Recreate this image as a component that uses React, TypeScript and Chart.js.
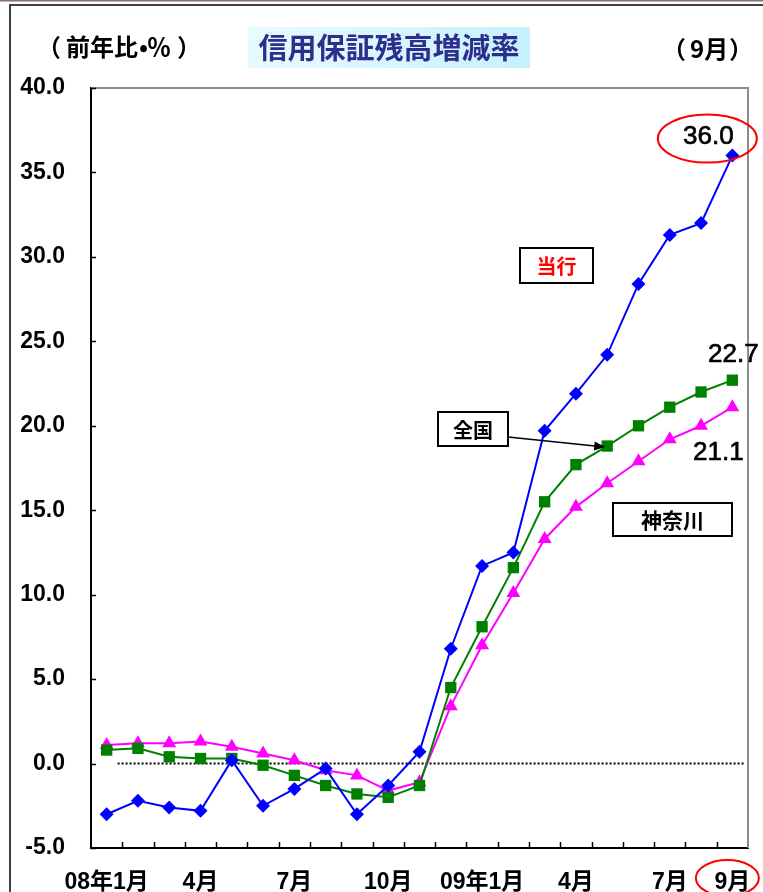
import { useEffect, useRef } from 'react';
import { Chart, registerables } from 'chart.js';

Chart.register(...registerables);

const categories = ['08年1月', '2月', '3月', '4月', '5月', '6月', '7月', '8月', '9月', '10月', '11月', '12月', '09年1月', '2月', '3月', '4月', '5月', '6月', '7月', '8月', '9月'];
const xTickLabels = ['08年1月', '', '', '4月', '', '', '7月', '', '', '10月', '', '', '09年1月', '', '', '4月', '', '', '7月', '', '9月'];
const touko = [-3.0, -2.2, -2.6, -2.8, 0.2, -2.5, -1.5, -0.3, -3.0, -1.3, 0.7, 6.8, 11.7, 12.5, 19.7, 21.9, 24.2, 28.4, 31.3, 32.0, 36.0];
const zenkoku = [0.8, 0.9, 0.4, 0.3, 0.3, -0.1, -0.7, -1.3, -1.8, -2.0, -1.3, 4.5, 8.1, 11.6, 15.5, 17.7, 18.8, 20.0, 21.1, 22.0, 22.7];
const kanagawa = [1.1, 1.2, 1.2, 1.3, 1.0, 0.6, 0.2, -0.4, -0.7, -1.6, -1.1, 3.4, 7.0, 10.1, 13.3, 15.2, 16.6, 17.9, 19.2, 20.0, 21.1];
const seriesNames = ['当行', '全国', '神奈川'];
const yMin = -5;
const yMax = 40;
const yStep = 5;
const titleText = '信用保証残高増減率';

const CJK = '"Noto Sans CJK JP", sans-serif';
const NUMFONT = '"Liberation Sans", Arial, "Noto Sans CJK JP", sans-serif';

const decorPlugin = {
  id: 'decor',
  beforeDatasetsDraw(chart: any) {
    const { ctx, chartArea, scales } = chart;
    const x = scales.x;
    const y = scales.y;
    ctx.save();
    ctx.strokeStyle = '#8c8c8c';
    ctx.lineWidth = 2;
    ctx.beginPath();
    ctx.moveTo(chartArea.left, chartArea.top);
    ctx.lineTo(chartArea.right, chartArea.top);
    ctx.lineTo(chartArea.right, chartArea.bottom);
    ctx.stroke();
    ctx.strokeStyle = '#000';
    ctx.lineWidth = 1.5;
    ctx.beginPath();
    for (let v = yMin; v <= yMax; v += yStep) {
      const py = Math.round(y.getPixelForValue(v)) + 0.5;
      ctx.moveTo(chartArea.left, py);
      ctx.lineTo(chartArea.left + 5, py);
    }
    for (let i = 1; i < categories.length; i++) {
      const px = Math.round(x.getPixelForValue(i - 0.5)) + 0.5;
      ctx.moveTo(px, chartArea.bottom);
      ctx.lineTo(px, chartArea.bottom - 6);
    }
    ctx.stroke();
    const zy = Math.round(y.getPixelForValue(0)) - 0.5;
    ctx.fillStyle = '#000';
    const startX = x.getPixelForValue(0.35);
    for (let px = startX; px < chartArea.right - 3; px += 4) {
      ctx.fillRect(px, zy - 1, 2, 2);
    }
    ctx.restore();
  },
  afterDraw(chart: any) {
    const { ctx } = chart;
    const W = chart.width;
    ctx.save();
    ctx.strokeStyle = '#8a7070';
    ctx.lineWidth = 1.5;
    ctx.beginPath();
    ctx.moveTo(0, 0.75);
    ctx.lineTo(W, 0.75);
    ctx.stroke();
    ctx.strokeStyle = '#404040';
    ctx.lineWidth = 2;
    ctx.beginPath();
    ctx.moveTo(10, chart.height);
    ctx.lineTo(10, 5);
    ctx.lineTo(W, 5);
    ctx.stroke();

    // title box
    const g = ctx.createLinearGradient(248, 27, 530, 68);
    g.addColorStop(0, '#e8fbff');
    g.addColorStop(1, '#c6f1fc');
    ctx.fillStyle = g;
    ctx.fillRect(248, 27, 282, 41);
    ctx.fillStyle = '#2e2e8c';
    ctx.font = `bold 29px ${CJK}`;
    ctx.textAlign = 'center';
    ctx.textBaseline = 'middle';
    ctx.fillText(titleText, 389, 48);

    // header texts placed by visible left edge
    ctx.fillStyle = '#000';
    ctx.font = `bold 24px ${CJK}`;
    ctx.textAlign = 'left';
    const at = (t: string, left: number, cy: number) => {
      const m = ctx.measureText(t);
      ctx.fillText(t, left + m.actualBoundingBoxLeft, cy);
    };
    at('（', 52, 47);
    at('前年比', 67, 47);
    at('•', 140, 47);
    at('％', 148, 47);
    at('）', 178, 47);
    at('（', 677, 49);
    at('9月', 690, 49);
    at('）', 730, 49);

    const box = (text: string, x: number, y: number, w: number, h: number, color: string, size: number) => {
      ctx.fillStyle = '#fff';
      ctx.fillRect(x, y, w, h);
      ctx.strokeStyle = '#000';
      ctx.lineWidth = 2;
      ctx.strokeRect(x, y, w, h);
      ctx.fillStyle = color;
      ctx.font = `bold ${size}px ${CJK}`;
      ctx.textAlign = 'center';
      ctx.textBaseline = 'middle';
      ctx.fillText(text, x + w / 2, y + h / 2 + 1);
    };
    box(seriesNames[0], 520, 248, 73, 35, '#ff0000', 20);
    box(seriesNames[1], 438, 412, 70, 34, '#000', 20);
    box(seriesNames[2], 613, 503, 119, 33, '#000', 21);

    const gMeta = chart.getDatasetMeta(1);
    const target = gMeta.data[16];
    const ax0 = 508, ay0 = 437;
    const ax1 = target.x - 2, ay1 = target.y + 1;
    const ang = Math.atan2(ay1 - ay0, ax1 - ax0);
    ctx.strokeStyle = '#000';
    ctx.lineWidth = 1.5;
    ctx.beginPath();
    ctx.moveTo(ax0, ay0);
    ctx.lineTo(ax1 - 8 * Math.cos(ang), ay1 - 8 * Math.sin(ang));
    ctx.stroke();
    ctx.fillStyle = '#000';
    ctx.beginPath();
    ctx.moveTo(ax1, ay1);
    ctx.lineTo(ax1 - 11 * Math.cos(ang) + 4.5 * Math.sin(ang), ay1 - 11 * Math.sin(ang) - 4.5 * Math.cos(ang));
    ctx.lineTo(ax1 - 11 * Math.cos(ang) - 4.5 * Math.sin(ang), ay1 - 11 * Math.sin(ang) + 4.5 * Math.cos(ang));
    ctx.closePath();
    ctx.fill();

    const last = categories.length - 1;
    const bp = chart.getDatasetMeta(0).data[last];
    const gp = chart.getDatasetMeta(1).data[last];
    const mp = chart.getDatasetMeta(2).data[last];
    ctx.fillStyle = '#000';
    ctx.strokeStyle = '#000';
    ctx.lineWidth = 0.7;
    ctx.font = '26px "Liberation Sans", Arial, sans-serif';
    ctx.textAlign = 'center';
    ctx.textBaseline = 'middle';
    const lbl = (t: string, x: number, y: number) => {
      ctx.fillText(t, x, y);
      ctx.strokeText(t, x, y);
    };
    lbl(touko[last].toFixed(1), bp.x - 24, bp.y - 19);
    lbl(zenkoku[last].toFixed(1), gp.x + 1, gp.y - 25);
    lbl(kanagawa[last].toFixed(1), mp.x - 14, mp.y + 46);

    ctx.strokeStyle = '#ff0000';
    ctx.lineWidth = 2;
    ctx.beginPath();
    ctx.ellipse(bp.x - 25, bp.y - 17, 49.5, 24, 0, 0, Math.PI * 2);
    ctx.stroke();
    const xs = chart.scales.x;
    const lx = xs.getPixelForValue(last);
    ctx.beginPath();
    ctx.ellipse(lx - 5, 878, 31.5, 18, 0, 0, Math.PI * 2);
    ctx.stroke();
    ctx.restore();
  },
};

export default function App() {
  const ref = useRef<HTMLCanvasElement | null>(null);
  useEffect(() => {
    if (!ref.current) return;
    const chart = new Chart(ref.current, {
      type: 'line',
      data: {
        labels: categories,
        datasets: [
          {
            label: seriesNames[0],
            data: touko,
            borderColor: '#0000ff',
            backgroundColor: '#0000ff',
            borderWidth: 2,
            pointStyle: 'rectRot',
            pointRadius: 7,
            pointBorderWidth: 0,
            tension: 0,
          },
          {
            label: seriesNames[1],
            data: zenkoku,
            borderColor: '#008000',
            backgroundColor: '#008000',
            borderWidth: 2,
            pointStyle: 'rect',
            pointRadius: 8,
            pointBorderWidth: 0,
            tension: 0,
          },
          {
            label: seriesNames[2],
            data: kanagawa,
            borderColor: '#ff00ff',
            backgroundColor: '#ff00ff',
            borderWidth: 2,
            pointStyle: 'triangle',
            pointRadius: 8,
            pointBorderWidth: 0,
            tension: 0,
          },
        ],
      },
      options: {
        animation: false,
        responsive: false,
        devicePixelRatio: 1,
        layout: { padding: { top: 88, right: 15, left: 0, bottom: 0 } },
        plugins: { legend: { display: false }, tooltip: { enabled: false }, title: { display: false } },
        scales: {
          x: {
            type: 'category',
            offset: true,
            grid: { display: false, drawTicks: false },
            border: { display: true, color: '#000', width: 2 },
            ticks: {
              autoSkip: false,
              maxRotation: 0,
              minRotation: 0,
              padding: 21,
              color: '#000',
              font: { family: NUMFONT, size: 23, weight: 'bold' },
              callback: (_v: any, i: number) => xTickLabels[i],
            },
            afterFit: (s: any) => {
              s.height = 44;
              s.paddingLeft = 0;
              s.paddingRight = 0;
            },
          },
          y: {
            min: yMin,
            max: yMax,
            grid: { display: false, drawTicks: false },
            border: { display: true, color: '#000', width: 2 },
            ticks: {
              stepSize: yStep,
              padding: 26,
              color: '#000',
              font: { family: NUMFONT, size: 23, weight: 'bold' },
              callback: (v: any) => Number(v).toFixed(1),
            },
            afterFit: (s: any) => {
              s.width = 91;
            },
          },
        },
      },
      plugins: [decorPlugin],
    });
    return () => chart.destroy();
  }, []);
  return (
    <div style={{ position: 'absolute', left: 0, top: 0, width: 763, height: 892, background: '#fff', overflow: 'hidden' }}>
      <canvas ref={ref} width={763} height={892} style={{ width: 763, height: 892, display: 'block' }} />
    </div>
  );
}
